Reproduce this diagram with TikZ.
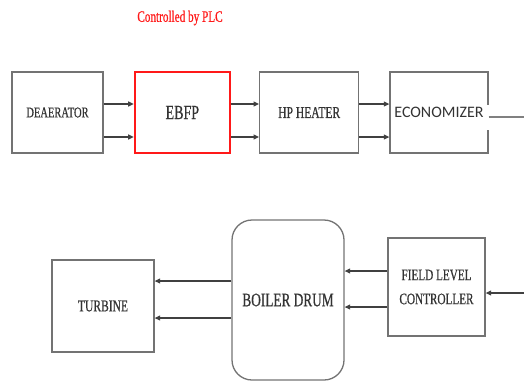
\documentclass[tikz,border=0pt]{standalone}
\usepackage{fontspec}
\setmainfont{Liberation Serif}
\newfontfamily\narrowfont[FakeStretch=0.7,FakeBold=0.6]{Liberation Serif}
\newfontfamily\calfont{Carlito}
\usepackage{tikz}
\usetikzlibrary{positioning,arrows.meta,calc}

\begin{document}
\begin{tikzpicture}[x=1pt, y=-1pt, node distance=30pt,
  every node/.style={font=\narrowfont\fontsize{15}{24}\selectfont, text=black!80},
  blk/.style={draw=black!55, line width=1.3pt, align=center, minimum height=81pt, inner sep=0pt},
  arr/.style={draw=black!75, line width=1.2pt, -{Triangle[length=5.5pt,width=5pt]}}, >=Triangle]
  \useasboundingbox (0,0) rectangle (524,381);
  % top row
  \node[blk, minimum width=91pt] (dea) at (57.5,112.5) {DEAERATOR};
  \node[blk, minimum width=95pt, draw=red!90, line width=2.4pt, right=of dea,
    font=\narrowfont\fontsize{20}{24}\selectfont] (ebfp) {EBFP};
  \node[blk, minimum width=99pt, right=28pt of ebfp, font=\narrowfont\fontsize{16.5}{24}\selectfont] (hph) {HP HEATER};
  \node[blk, minimum width=98pt, right=of hph, font=\calfont\fontsize{16}{18}\selectfont] (eco) {ECONOMIZER};
  \node[font=\narrowfont\fontsize{16}{18}\selectfont, text=red!90] (plc) at (180,18) {Controlled by PLC};
  \draw[arr] ([yshift=8.5pt]dea.east) -- ([yshift=8.5pt]ebfp.west);
  \draw[arr] ([yshift=-24.5pt]dea.east) -- ([yshift=-24.5pt]ebfp.west);
  \draw[arr] ([yshift=8.5pt]ebfp.east) -- ([yshift=8.5pt]hph.west);
  \draw[arr] ([yshift=-24.5pt]ebfp.east) -- ([yshift=-24.5pt]hph.west);
  \draw[arr] ([yshift=8.5pt]hph.east) -- ([yshift=8.5pt]eco.west);
  \draw[arr] ([yshift=-24.5pt]hph.east) -- ([yshift=-24.5pt]eco.west);
  % outlet of the economizer
  \coordinate (ecoout) at (524,117);
  \draw[white, line width=3pt] ([yshift=8pt]eco.east) -- ([yshift=-17pt]eco.east);
  \draw[black!50, line width=2pt] (eco.east |- ecoout) -- (ecoout);
  % bottom row
  \node[blk, minimum width=102pt, minimum height=92pt, font=\narrowfont\fontsize{16.5}{24}\selectfont] (tur) at (103,306) {TURBINE};
  \node[blk, minimum width=112pt, minimum height=160pt, rounded corners=20pt,
    font=\narrowfont\fontsize{19}{24}\selectfont] (drum) at (288,300) {BOILER DRUM};
  \node[blk, minimum width=97pt, minimum height=98pt, font=\narrowfont\fontsize{16}{24}\selectfont] (flc) at (436.5,287) {FIELD LEVEL\\CONTROLLER};
  \draw[arr] ([yshift=25pt]tur.east -| drum.west) -- ([yshift=25pt]tur.east);
  \draw[arr] ([yshift=-12pt]tur.east -| drum.west) -- ([yshift=-12pt]tur.east);
  \draw[arr] ([yshift=16pt]flc.west) -- ([yshift=16pt]flc.west -| drum.east);
  \draw[arr] ([yshift=-20pt]flc.west) -- ([yshift=-20pt]flc.west -| drum.east);
  \coordinate (flcin) at (524,293);
  \draw[arr] (flcin) -- (flcin -| flc.east);
\end{tikzpicture}
\end{document}
